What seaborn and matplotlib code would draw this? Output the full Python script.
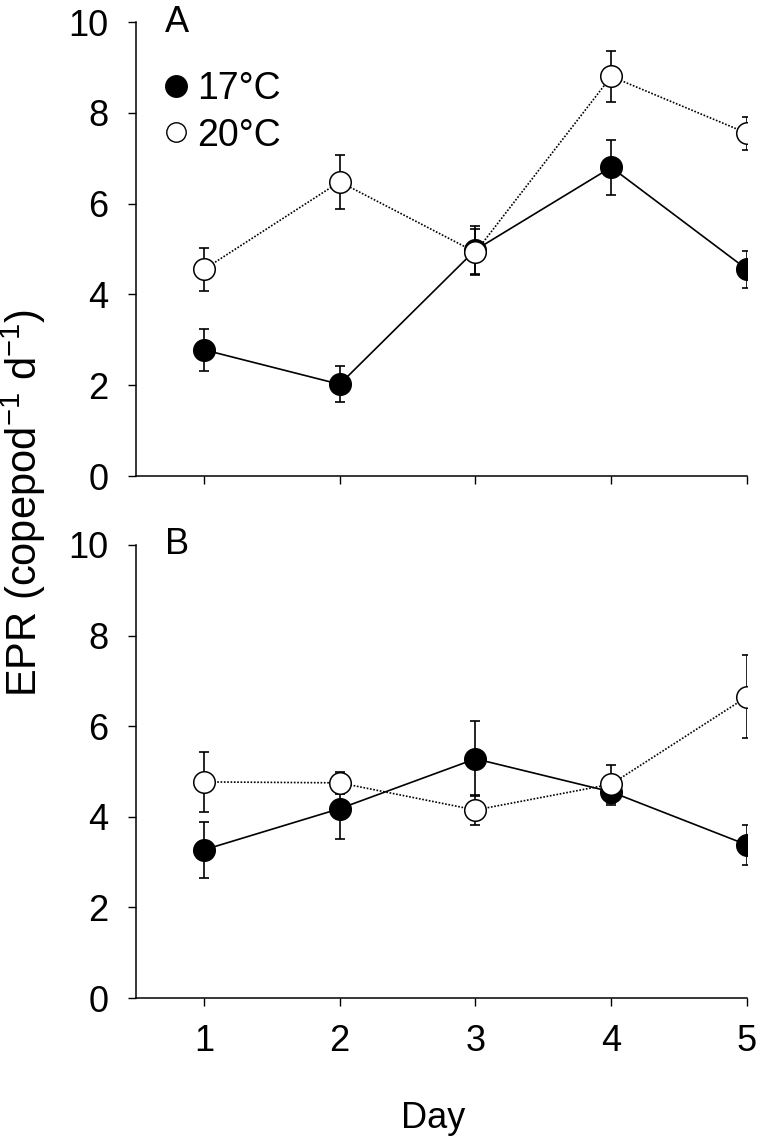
import numpy as np
import pandas as pd
import matplotlib
matplotlib.use("Agg")
import matplotlib.pyplot as plt
from matplotlib.lines import Line2D
import seaborn as sns

days = [1, 2, 3, 4, 5]
a_17 = [2.78, 2.02, 4.98, 6.80, 4.55]
a_17_se = [0.46, 0.40, 0.52, 0.61, 0.40]
a_20 = [4.55, 6.48, 4.93, 8.80, 7.55]
a_20_se = [0.47, 0.60, 0.50, 0.56, 0.36]
b_17 = [3.27, 4.18, 5.28, 4.55, 3.38]
b_17_se = [0.62, 0.68, 0.83, 0.28, 0.44]
b_20 = [4.77, 4.75, 4.15, 4.72, 6.65]
b_20_se = [0.66, 0.25, 0.33, 0.42, 0.92]
yticks = [0, 2, 4, 6, 8, 10]
panel_labels = ["A", "B"]
legend_labels = ["17°C", "20°C"]

sns.set_style("ticks")
plt.rcParams["font.family"] = ["Liberation Sans", "DejaVu Sans"]
plt.rcParams["mathtext.fontset"] = "custom"
plt.rcParams["mathtext.rm"] = "Liberation Sans"
plt.rcParams["mathtext.it"] = "Liberation Sans"
plt.rcParams["text.color"] = "black"
plt.rcParams["axes.labelcolor"] = "black"
TICK_FS = 26
LEG_FS = 27

fig = plt.figure(figsize=(7.64, 11.45), dpi=100)
left, right = 136 / 764, 747 / 764
axA = fig.add_axes([left, 1 - 476 / 1145, right - left, (476 - 22) / 1145])
axB = fig.add_axes([left, 1 - 998 / 1145, right - left, (998 - 545) / 1145])

ms = 15.5
lw = 1.2

def draw(ax, v17, s17, v20, s20, lab):
    df17 = pd.DataFrame({"day": days, "epr": v17})
    df20 = pd.DataFrame({"day": days, "epr": v20})
    ax.errorbar(days, v17, yerr=s17, fmt="none", ecolor="black",
                elinewidth=lw, capsize=3.8, capthick=lw, zorder=2)
    sns.lineplot(data=df17, x="day", y="epr", ax=ax, color="black",
                 linestyle="-", linewidth=lw, marker="o", markersize=ms,
                 markerfacecolor="black", markeredgecolor="black",
                 markeredgewidth=1.1, zorder=3)
    ax.errorbar(days, v20, yerr=s20, fmt="none", ecolor="black",
                elinewidth=lw, capsize=3.8, capthick=lw, zorder=4)
    sns.lineplot(data=df20, x="day", y="epr", ax=ax, color="black",
                 linestyle=(0, (1, 1)), linewidth=lw, marker="o", markersize=ms,
                 markerfacecolor="white", markeredgecolor="black",
                 markeredgewidth=1.1, zorder=5)
    ax.set_xlim(0.5, 5.0)
    ax.set_ylim(0, 10)
    ax.set_yticks(yticks)
    ax.set_xticks(days)
    ax.set_xlabel("")
    ax.set_ylabel("")
    sns.despine(ax=ax)
    for sp in ["left", "bottom"]:
        ax.spines[sp].set_linewidth(1.1)
        ax.spines[sp].set_color("black")
    ax.tick_params(direction="out", length=6, width=1.0, colors="black",
                   labelsize=TICK_FS)
    ax.tick_params(axis="y", pad=14)
    ax.tick_params(axis="x", pad=13)
    ax.text(0.047, 1.0, lab, transform=ax.transAxes, fontsize=TICK_FS,
            ha="left", va="center", color="black")

draw(axA, a_17, a_17_se, a_20, a_20_se, panel_labels[0])
draw(axB, b_17, b_17_se, b_20, b_20_se, panel_labels[1])
axA.tick_params(labelbottom=False)

handles = [Line2D([], [], marker="o", linestyle="none", markersize=ms,
                  markerfacecolor="black", markeredgecolor="black"),
           Line2D([], [], marker="o", linestyle="none", markersize=ms - 1.5,
                  markerfacecolor="white", markeredgecolor="black")]
axA.legend(handles, legend_labels, loc="upper left",
           bbox_to_anchor=(0.047, 0.891), frameon=False, fontsize=LEG_FS,
           handlelength=0.6, handletextpad=0.27, labelspacing=0.27,
           borderpad=0, borderaxespad=0)

fig.text(23 / 764, 1 - 503 / 1145, "EPR (copepod$^{-1}$ d$^{-1}$)",
         rotation=90, ha="center", va="center", fontsize=30)
fig.text(433 / 764, 1 - 1118 / 1145, "Day", ha="center", va="center",
         fontsize=26)

fig.savefig("out.png", dpi=100, facecolor="white")
